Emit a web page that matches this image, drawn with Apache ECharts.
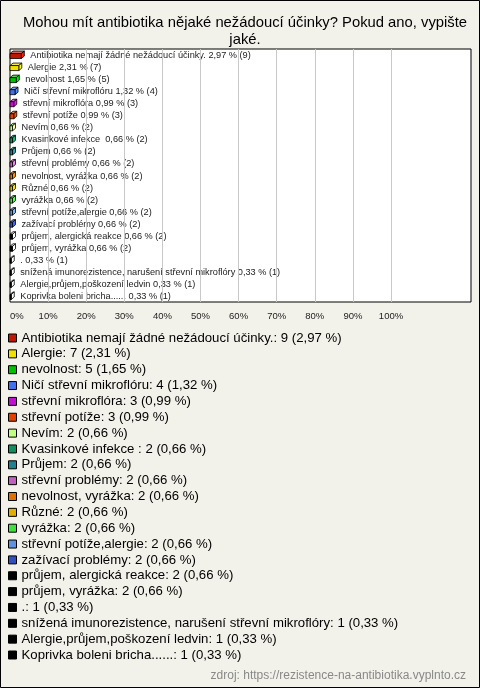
<!DOCTYPE html>
<html>
<head>
<meta charset="utf-8">
<script src="https://cdn.jsdelivr.net/npm/echarts@6/dist/echarts.min.js"></script>
<style>
html,body{margin:0;padding:0;background:#f3f2ea;}
#c{width:480px;height:688px;}
</style>
</head>
<body>
<div id="c"></div>
<script>
const titleText = 'Mohou mít antibiotika nějaké nežádoucí účinky? Pokud ano, vypište\njaké.';
const sourceText = 'zdroj: https://rezistence-na-antibiotika.vyplnto.cz';
const categories = [
  'Antibiotika nemají žádné nežádoucí účinky.',
  'Alergie',
  'nevolnost',
  'Ničí střevní mikroflóru',
  'střevní mikroflóra',
  'střevní potíže',
  'Nevím',
  'Kvasinkové infekce ',
  'Průjem',
  'střevní problémy',
  'nevolnost, vyrážka',
  'Různé',
  'vyrážka',
  'střevní potíže,alergie',
  'zažívací problémy',
  'průjem, alergická reakce',
  'průjem, vyrážka',
  '.',
  'snížená imunorezistence, narušení střevní mikroflóry',
  'Alergie,průjem,poškození ledvin',
  'Koprivka boleni bricha......'
];
const counts = [9,7,5,4,3,3,2,2,2,2,2,2,2,2,2,2,2,1,1,1,1];
const percents = [2.97,2.31,1.65,1.32,0.99,0.99,0.66,0.66,0.66,0.66,0.66,0.66,0.66,0.66,0.66,0.66,0.66,0.33,0.33,0.33,0.33];
const colors = ['#c01800','#f0e000','#00c000','#4070f0','#c010d0','#e04000','#c0ff80','#109060','#208090','#c060c0','#e07000','#e0b000','#40e040','#6090e0','#3050c0','#000000','#000000','#000000','#000000','#000000','#000000'];
const xTicks = [0,10,20,30,40,50,60,70,80,90,100];

const FONT = '"Liberation Sans", Arial, sans-serif';
const fmt = v => v.toFixed(2).replace('.', ',');

const chart = echarts.init(document.getElementById('c'), null, {renderer: 'canvas'});

function makeRender(i) {
  return function (params, api) {
    const v = api.value(0);
    const cat = api.value(1);
    const p0 = api.coord([0, cat]);
    const p1 = api.coord([v, cat]);
    const cy = p0[1];
    const x0 = p0[0], x1 = p1[0];
    const h = 5, dx = 3, dy = 2.5;
    const yt = cy - 1.5;
    const c = colors[i];
    const light = echarts.color.lift(c, 0.35);
    const dark = echarts.color.lift(c, -0.3);
    const stroke = {stroke: '#000', lineWidth: 0.8};
    return {
      type: 'group',
      children: [
        {type: 'polygon', shape: {points: [[x0, yt], [x1, yt], [x1 + dx, yt - dy], [x0 + dx, yt - dy]]}, style: Object.assign({fill: c === '#000000' ? '#ffffff' : light}, stroke)},
        {type: 'polygon', shape: {points: [[x1, yt], [x1 + dx, yt - dy], [x1 + dx, yt - dy + h], [x1, yt + h]]}, style: Object.assign({fill: c === '#000000' ? '#ffffff' : dark}, stroke)},
        {type: 'rect', shape: {x: x0, y: yt, width: x1 - x0, height: h}, style: Object.assign({fill: c}, stroke)},
        {type: 'text', style: {x: x1 + dx + 6, y: cy + 0.5, text: categories[i] + ' ' + fmt(percents[i]) + ' % (' + counts[i] + ')', fill: '#222', font: '9.2px ' + FONT, align: 'left', verticalAlign: 'middle'}}
      ]
    };
  };
}

const series = categories.map((name, i) => {
  const s = {
    type: 'custom',
    name: name,
    coordinateSystem: 'cartesian2d',
    renderItem: makeRender(i),
    itemStyle: {color: colors[i]},
    data: [[percents[i], i]],
    encode: {x: 0, y: 1},
    silent: true
  };
  if (i === 0) {
    s.markLine = {
      silent: true,
      symbol: ['none', 'none'],
      label: {show: false},
      lineStyle: {color: '#c8c8c8', width: 1, type: 'solid'},
      data: xTicks.slice(1).map(t => ({xAxis: t}))
    };
  }
  return s;
});

chart.setOption({
  backgroundColor: '#f3f2ea',
  animation: false,
  title: [
    {text: titleText, left: 240, top: 9, textAlign: 'center',
     textStyle: {fontFamily: FONT, fontSize: 14.8, fontWeight: 'normal', color: '#000', lineHeight: 17, align: 'center'}},
    {text: sourceText, right: 9, top: 665,
     textStyle: {fontFamily: FONT, fontSize: 12, fontWeight: 'normal', color: '#888'}}
  ],
  graphic: [
    {type: 'rect', z: -1, shape: {x: 0.5, y: 0.5, width: 479, height: 687}, style: {fill: 'none', stroke: '#000', lineWidth: 1}},
    {type: 'rect', z: -1, shape: {x: 10, y: 49, width: 461, height: 253}, style: {fill: '#fff', stroke: '#000', lineWidth: 1}}
  ],
  grid: {left: 10, top: 49, width: 461, height: 253, containLabel: false},
  xAxis: {
    type: 'value', min: 0, max: 121, interval: 10,
    axisLine: {show: false}, axisTick: {show: false}, splitLine: {show: false},
    axisLabel: {fontFamily: FONT, fontSize: 9.5, color: '#222', margin: 9,
      alignMinLabel: 'left', showMaxLabel: false,
      formatter: v => (v <= 100 ? v + '%' : '')}
  },
  yAxis: {
    type: 'category', inverse: true, data: categories,
    axisLine: {show: false}, axisTick: {show: false}, axisLabel: {show: false}, splitLine: {show: false}
  },
  legend: {
    orient: 'vertical', left: 8, top: 330.5, padding: 0,
    itemWidth: 8, itemHeight: 8, itemGap: 0.85, icon: 'rect',
    selectedMode: false,
    itemStyle: {borderColor: '#000', borderWidth: 1},
    textStyle: {fontFamily: FONT, fontSize: 13.2, color: '#000', lineHeight: 15},
    data: categories,
    formatter: name => {
      const i = categories.indexOf(name);
      return name + ': ' + counts[i] + ' (' + fmt(percents[i]) + ' %)';
    }
  },
  series: series
});
</script>
</body>
</html>
